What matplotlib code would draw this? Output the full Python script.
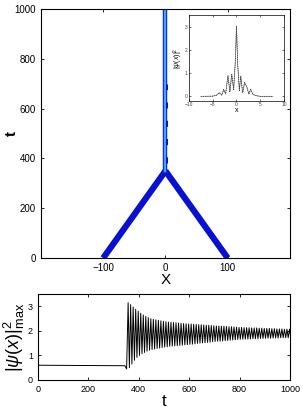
import numpy as np
import matplotlib
matplotlib.use('Agg')
import matplotlib.pyplot as plt

plt.rcParams['font.family'] = ['Liberation Sans', 'DejaVu Sans']
plt.rcParams['mathtext.fontset'] = 'custom'
plt.rcParams['mathtext.rm'] = 'Liberation Sans'
plt.rcParams['mathtext.it'] = 'Liberation Sans:italic'

# soliton trajectories (x, t)
left_x = [-100, 0]
left_t = [0, 350]
right_x = [100, 0]
right_t = [0, 350]
merged_x = [0, 0]
merged_t = [350, 1000]
wobble_x = [1.2, 1.2]
wobble_t = [380, 700]

# inset profile |psi(x)|^2
prof_x = [-7.5, -5.0, -4.2, -3.6, -3.1, -2.7, -2.3, -1.8, -1.4, -1.0, -0.6, -0.25, 0.0,
          0.25, 0.6, 0.9, 1.3, 1.7, 2.2, 2.6, 3.0, 3.5, 4.2, 5.0, 7.7]
prof_y = [0.0, 0.01, 0.05, 0.16, 0.05, 0.3, 0.1, 0.9, 0.2, 0.95, 0.3, 1.5, 3.03,
          1.4, 0.25, 0.88, 0.15, 0.6, 0.4, 0.1, 0.3, 0.08, 0.03, 0.0, 0.0]

# max amplitude vs t
pre_t = [0, 200, 345, 352]
pre_y = [0.6, 0.59, 0.58, 0.45]
osc_start = 358
osc_period = 10
peaks = [3.15, 3.07, 2.97, 2.88, 2.8, 2.72, 2.65, 2.59, 2.54, 2.5,
         2.47, 2.45, 2.43, 2.41, 2.39, 2.37, 2.36, 2.35, 2.34, 2.33,
         2.32, 2.31, 2.3, 2.29, 2.28, 2.28, 2.27, 2.26, 2.25, 2.25,
         2.24, 2.23, 2.23, 2.22, 2.21, 2.2, 2.2, 2.19, 2.19, 2.18,
         2.17, 2.17, 2.16, 2.15, 2.14, 2.14, 2.13, 2.13, 2.13, 2.12,
         2.12, 2.12, 2.11, 2.11, 2.1, 2.1, 2.1, 2.09, 2.09, 2.08,
         2.08, 2.08, 2.07, 2.07, 2.07]
troughs = [0.5, 0.65, 0.8, 0.92, 1.0, 1.07, 1.12, 1.17, 1.21, 1.24,
           1.26, 1.28, 1.3, 1.32, 1.34, 1.35, 1.37, 1.38, 1.39, 1.4,
           1.41, 1.42, 1.43, 1.44, 1.45, 1.46, 1.47, 1.49, 1.5, 1.51,
           1.52, 1.53, 1.54, 1.56, 1.57, 1.58, 1.58, 1.59, 1.6, 1.61,
           1.62, 1.63, 1.64, 1.65, 1.66, 1.66, 1.67, 1.67, 1.67, 1.68,
           1.68, 1.68, 1.69, 1.69, 1.7, 1.7, 1.7, 1.71, 1.71, 1.71,
           1.72, 1.72, 1.72, 1.72, 1.72]

peak_t = osc_start + osc_period * np.arange(len(peaks))
amp_t = list(pre_t)
amp_y = list(pre_y)
for tp, p, q in zip(peak_t, peaks, troughs):
    amp_t += [tp, tp + osc_period / 2]
    amp_y += [p, q]

fig = plt.figure(figsize=(3.03, 4.09), dpi=100)

def matlab_ticks(ax, size):
    ax.tick_params(direction='in', top=True, right=True, labelsize=size,
                   length=2.5, width=0.6)
    for s in ax.spines.values():
        s.set_linewidth(0.8)

# main trajectory plot
ax = fig.add_axes([0.135, 0.369, 0.822, 0.609])
ax.plot(left_x, left_t, color='#0a10d0', lw=4.5, solid_capstyle='butt')
ax.plot(right_x, right_t, color='#0a10d0', lw=4.5, solid_capstyle='butt')
ax.plot(merged_x, merged_t, color='#1030e0', lw=3.2)
ax.plot(wobble_x, wobble_t, color='#0a10d0', lw=2.2, ls=(0, (2, 4)))
ax.plot(merged_x, merged_t, color='#40a8ff', lw=1.4)
ax.set_xlim(-200, 200)
ax.set_ylim(0, 1000)
ax.set_xticks([-100, 0, 100])
ax.set_yticks([0, 200, 400, 600, 800, 1000])
matlab_ticks(ax, 7)
ax.set_xlabel('X', fontsize=11, labelpad=0)
ax.set_ylabel('t', fontsize=11, fontweight='bold', va='center')
ax.yaxis.set_label_coords(-0.115, 0.5)

# inset profile
ins = fig.add_axes([0.624, 0.753, 0.313, 0.210])
ins.plot(prof_x, prof_y, color='black', lw=0.6, ls=':')
ins.plot(prof_x, prof_y, color='#555555', lw=0.4)
ins.set_xlim(-10, 10)
ins.set_ylim(-0.2, 3.5)
ins.set_xticks([-10, -5, 0, 5, 10])
ins.set_yticks([0, 1, 2, 3])
ins.tick_params(direction='in', top=True, right=True, labelsize=3.5,
                length=1.5, width=0.4, pad=1, labelcolor='#444444')
for s in ins.spines.values():
    s.set_linewidth(0.5)
ins.set_xlabel('x', fontsize=5, labelpad=0)
ins.set_ylabel(r'$|\psi(x)|^2$', fontsize=5, labelpad=0)

# max amplitude plot
bx = fig.add_axes([0.125, 0.071, 0.832, 0.210])
bx.plot(amp_t, amp_y, color='black', lw=0.7)
bx.set_xlim(0, 1000)
bx.set_ylim(0, 3.5)
bx.set_xticks([0, 200, 400, 600, 800, 1000])
bx.set_yticks([0, 1, 2, 3])
matlab_ticks(bx, 6.5)
bx.set_xlabel('t', fontsize=12, labelpad=0)
bx.set_ylabel(r'$|\psi(x)|^2_{\rm max}$', fontsize=13, labelpad=1)

fig.savefig('out.png', dpi=100)
